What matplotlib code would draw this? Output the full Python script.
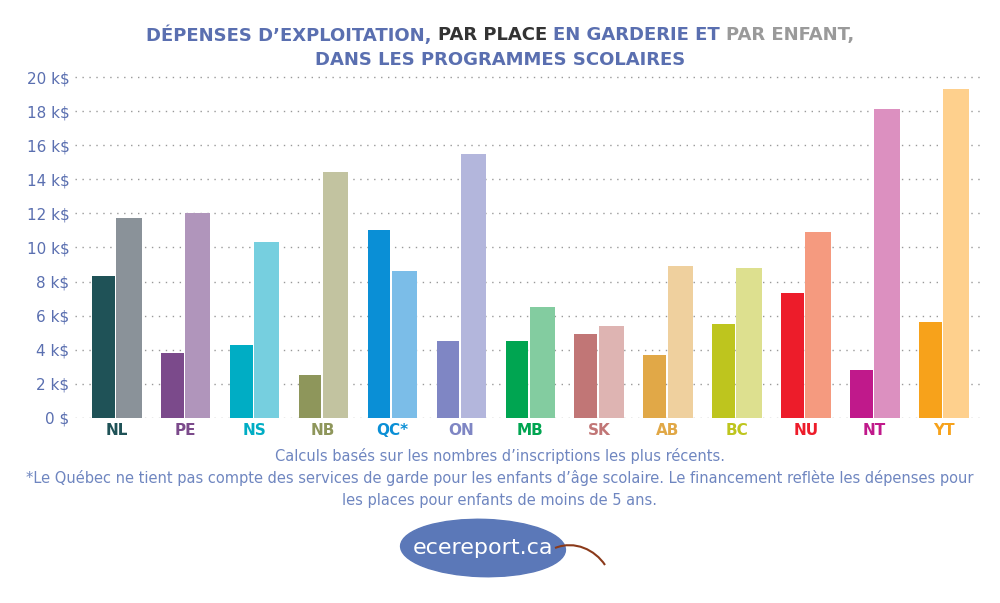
import matplotlib
matplotlib.use("Agg")
import matplotlib.pyplot as plt
import numpy as np
from matplotlib.patches import Ellipse, PathPatch
from matplotlib.path import Path

provinces = ["NL","PE","NS","NB","QC*","ON","MB","SK","AB","BC","NU","NT","YT"]
per_place = [8.3,3.8,4.3,2.5,11.0,4.5,4.5,4.9,3.7,5.5,7.3,2.8,5.6]
per_child = [11.7,12.0,10.3,14.4,8.6,15.5,6.5,5.4,8.9,8.8,10.9,18.1,19.3]
dark_cols = ["#1f5257","#7b4a8b","#00adc4","#8e965b","#0a8fd6","#7f86c4","#00a551","#c17676","#e1a847","#bec51e","#ed1c2a","#c0198b","#f7a21b"]
light_cols = ["#8a9299","#b095bb","#76cfdf","#c2c3a0","#7bbde8","#b3b6dc","#83cca0","#deb4b2","#efd09e","#dde08f","#f59a7f","#dc90c0","#fed08d"]
yticks = list(range(0,21,2))
ytick_labels = ["0 $"] + [f"{v} k$" for v in yticks[1:]]

fig = plt.figure(figsize=(10,6.03), dpi=100)
ax = fig.add_axes([0.075, 0.307, 0.91, 0.5766])
x = np.arange(len(provinces))
ax.bar(x-0.19, per_place, width=0.33, color=dark_cols)
ax.bar(x+0.18, per_child, width=0.37, color=light_cols)
ax.set_ylim(0,20.4)
ax.set_xlim(-0.6, 12.6)
ax.set_yticks(yticks)
ax.set_yticklabels(ytick_labels, color="#5a6fb0", fontsize=11)
ax.set_xticks(x)
ax.set_xticklabels(provinces, fontsize=11, fontweight="bold")
for lab, c in zip(ax.get_xticklabels(), dark_cols):
    lab.set_color(c)
ax.tick_params(length=0, pad=4)
ax.yaxis.grid(True, linestyle=(0,(1,4)), color="#999999", linewidth=1)
ax.set_axisbelow(True)
for s in ax.spines.values():
    s.set_visible(False)

# title
fig.canvas.draw()
r = fig.canvas.get_renderer()
parts = [("DÉPENSES D’EXPLOITATION, ","#5a6fb0"),("PAR PLACE ","#333333"),("EN GARDERIE ET ","#5a6fb0"),("PAR ENFANT,","#9a9a9a")]
kw = dict(fontsize=13, fontweight="bold", family="DejaVu Sans")
widths = []
for t,c in parts:
    tt = fig.text(0,0,t,**kw)
    widths.append(tt.get_window_extent(r).width)
    tt.remove()
total = sum(widths)
xs = 500 - total/2
for (t,c),w in zip(parts,widths):
    fig.text(xs/1000, 1-35/603, t, color=c, va="center", ha="left", **kw)
    xs += w
fig.text(0.5, 1-60/603, "DANS LES PROGRAMMES SCOLAIRES", color="#5a6fb0", ha="center", va="center", **kw)

notes = ["Calculs basés sur les nombres d’inscriptions les plus récents.",
         "*Le Québec ne tient pas compte des services de garde pour les enfants d’âge scolaire. Le financement reflète les dépenses pour",
         "les places pour enfants de moins de 5 ans."]
for i,n in enumerate(notes):
    fig.text(0.5, 1-(456+22*i)/603, n, ha="center", va="center", color="#6f86c0", fontsize=10.5)

# leaf logo
fig.patches.append(Ellipse((0.483, 1-548/603), 0.165, 0.095, angle=-3, transform=fig.transFigure, color="#5b78b8"))
verts = [(0.555,1-548/603),(0.575,1-540/603),(0.595,1-550/603),(0.605,1-565/603)]
fig.patches.append(PathPatch(Path(verts,[Path.MOVETO,Path.CURVE4,Path.CURVE4,Path.CURVE4]), transform=fig.transFigure, fill=False, edgecolor="#8b3a1a", lw=1.5))
fig.text(0.483, 1-548/603, "ecereport.ca", ha="center", va="center", color="white", fontsize=16)

fig.savefig("out.png", dpi=100, facecolor="white")
